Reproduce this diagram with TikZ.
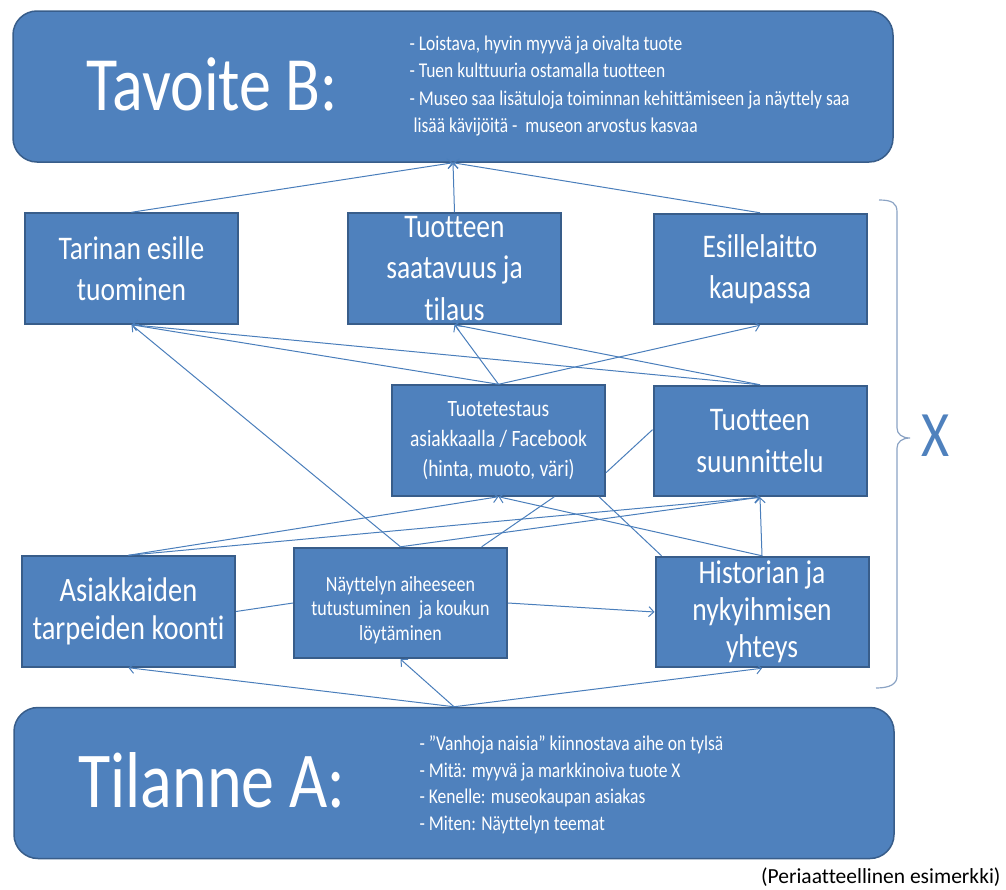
\documentclass[tikz,border=0pt]{standalone}
\usepackage{fontspec}
\setmainfont{Carlito}[Ligatures={NoCommon}]
\usepackage{xcolor}
\usetikzlibrary{positioning,arrows.meta}
\definecolor{boxblue}{HTML}{4F81BD}
\definecolor{boxedge}{HTML}{385D8A}
\definecolor{linkblue}{HTML}{4A7EBB}
\definecolor{bracegray}{HTML}{8BA3C4}

\begin{document}
\begin{tikzpicture}[x=1pt,y=-1pt,
    stretch/.style={yscale=1.2, transform shape},
    panel/.style={draw=boxedge, line width=1.5pt, fill=boxblue, rounded corners=24pt, minimum width=880pt, minimum height=151pt},
    box/.style={stretch, draw=boxedge, line width=2pt, fill=boxblue, text=white, align=center, inner sep=0pt, minimum width=213pt, minimum height=91.7pt},
    bigtxt/.style={font=\fontsize{27.5}{34.5}\selectfont},
    smalltxt/.style={font=\fontsize{19.5}{25}\selectfont},
    link/.style={draw=linkblue, line width=1pt, -{Straight Barb[length=5pt,width=10pt]}},
    plain/.style={draw=linkblue, line width=1pt}]
    \useasboundingbox (0,0) rectangle (1006,889);

    % Tavoite B (goal)
    \node[panel] (goal) at (453,86.5) {};
    \node[stretch, anchor=base, text=white, font=\fontsize{64}{64}\selectfont] (goal-title) at (212,110) {Tavoite B:};
    \node[stretch, anchor=west, text=white, align=left, font=\fontsize{17.5}{22.9}\selectfont] (goal-list) at (406,86) {- Loistava, hyvin myyvä ja oivalta tuote\\
        - Tuen kulttuuria ostamalla tuotteen\\
        - Museo saa lisätuloja toiminnan kehittämiseen ja näyttely saa\\
        \hspace*{4pt}lisää kävijöitä -\ \ museon arvostus kasvaa};

    % Tilanne A (start)
    \node[panel] (start) at (454,783) {};
    \node[stretch, anchor=base, text=white, font=\fontsize{66}{66}\selectfont] (start-title) at (212,807) {Tilanne A:};
    \node[stretch, anchor=west, text=white, align=left, font=\fontsize{17.5}{22.1}\selectfont] (start-list) at (416,785) {- ”Vanhoja naisia” kiinnostava aihe on tylsä\\
        - Mitä: myyvä ja markkinoiva tuote X\\
        - Kenelle: museokaupan asiakas\\
        - Miten: Näyttelyn teemat};

    % upper row
    \node[box, bigtxt] (tarina) at (131.5,268.5) {Tarinan esille\\tuominen};
    \node[box, bigtxt] (saatavuus) at (454.5,268.5) {Tuotteen\\saatavuus ja\\tilaus};
    \node[box, bigtxt] (esille) at (760,269) {Esillelaitto\\kaupassa};

    % middle row
    \node[box, smalltxt] (testaus) at (498.5,440.5) {Tuotetestaus\\asiakkaalla / Facebook\\(hinta, muoto, väri)};
    \node[box, bigtxt] (suunnittelu) at (760,441) {Tuotteen\\suunnittelu};

    % lower row
    \node[box, font=\fontsize{28.5}{31.7}\selectfont] (asiak) at (128.5,611.5) {Asiakkaiden\\tarpeiden koonti};
    \node[box, font=\fontsize{18}{20.5}\selectfont] (nayttely) at (400.5,603) {\rule{0pt}{24pt}Näyttelyn aiheeseen\\tutustuminen\ \ ja koukun\\löytäminen};
    \node[box, font=\fontsize{27.5}{30.8}\selectfont] (historia) at (762,612) {Historian ja\\nykyihmisen\\yhteys};

    % arrows upwards
    \foreach \from/\to in {tarina/goal, saatavuus/goal, esille/goal,
        testaus/tarina, testaus/saatavuus, testaus/esille,
        suunnittelu/tarina, suunnittelu/saatavuus,
        asiak/testaus, asiak/suunnittelu,
        nayttely/tarina, nayttely/suunnittelu,
        historia/testaus, historia/suunnittelu} {
        \draw[link] (\from.north) -- (\to.south);
    }
    \foreach \to in {asiak, nayttely, historia}
        \draw[link] (start.north) -- (\to.south);
    \draw[link] (nayttely.east) -- (historia.west);

    % plain links
    \draw[plain] (testaus.-14) -- (suunnittelu.175);
    \draw[plain] (testaus.-25) -- (historia.155);
    \draw[plain] (nayttely.30) -- (testaus.-40);
    \draw[plain] (asiak.east) -- (nayttely.west);

    % brace and X
    \draw[bracegray, line width=1.2pt] (879,200) .. controls (892,200) and (897,203) .. (897,212) -- (897,428)
        .. controls (897,434) and (902,438) .. (910,438) .. controls (902,438) and (897,442) .. (897,448)
        -- (897,676) .. controls (897,684) and (890,688) .. (876,688);
    \node[stretch, text=boxblue, font=\fontsize{54}{54}\selectfont] (xlabel) at (936,436) {X};

    \node[anchor=east, font=\fontsize{21.5}{24}\selectfont] (note) at (1004,877) {(Periaatteellinen esimerkki)};
\end{tikzpicture}
\end{document}
